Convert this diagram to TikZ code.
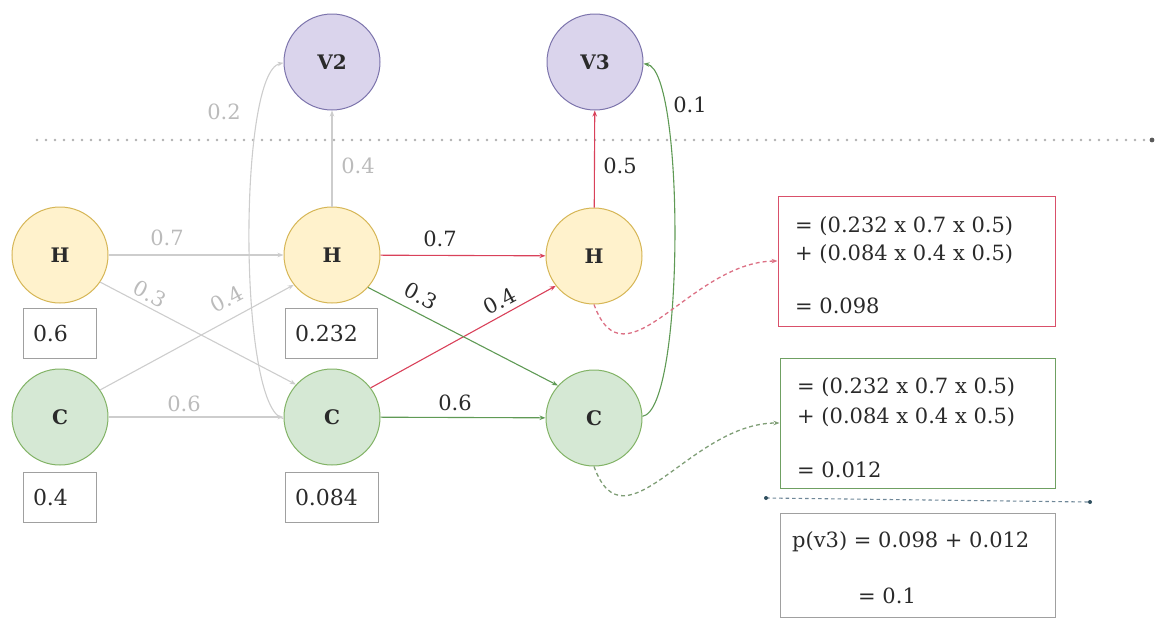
\documentclass[tikz,border=0pt]{standalone}
\usepackage{fontspec}
\setmainfont{DejaVu Serif}
\usetikzlibrary{arrows.meta}
\definecolor{yfill}{HTML}{FFF2CC}
\definecolor{ydraw}{HTML}{D6B656}
\definecolor{gfill}{HTML}{D5E8D4}
\definecolor{gdraw}{HTML}{82B366}
\definecolor{pfill}{HTML}{DAD4EC}
\definecolor{pdraw}{HTML}{7C74AC}
\definecolor{redl}{HTML}{D9415A}
\definecolor{greenl}{HTML}{5F9A55}
\definecolor{grayl}{HTML}{CDCDCD}
\definecolor{graytxt}{HTML}{BBBBBB}
\definecolor{txt}{HTML}{2A2A2A}
\definecolor{boxgray}{HTML}{A0A0A0}
\definecolor{redbox}{HTML}{D9506A}
\definecolor{greenbox}{HTML}{6FA062}
\definecolor{reddash}{HTML}{DC7084}
\definecolor{greendash}{HTML}{7F9E76}
\definecolor{bluedash}{HTML}{6F8798}
\definecolor{bluedot}{HTML}{2F4F5F}
\definecolor{dotgray}{HTML}{B0B0B0}
\tikzset{
  state/.style={circle, minimum size=96pt, inner sep=0pt, line width=1pt, font=\bfseries\fontsize{20}{24}\selectfont, text=txt},
  hs/.style={state, fill=yfill, draw=ydraw},
  cs/.style={state, fill=gfill, draw=gdraw},
  vs/.style={state, fill=pfill, draw=pdraw},
  valbox/.style={draw=boxgray, line width=1pt, minimum height=50pt, inner xsep=10pt, inner ysep=0pt, align=left, text=txt, font=\fontsize{22}{26}\selectfont},
  bigbox/.style={line width=1pt, minimum width=277pt, inner sep=0pt},
  boxtxt/.style={anchor=base west, inner sep=0pt, text=txt, font=\fontsize{21}{25}\selectfont},
  glbl/.style={text=graytxt, inner sep=0pt, font=\fontsize{21}{25}\selectfont},
  dlbl/.style={text=txt, inner sep=0pt, font=\fontsize{21}{25}\selectfont},
  arr/.style={-{Stealth[length=6pt,width=4.5pt]}, line width=1.1pt},
  darr/.style={-{Stealth[length=6pt,width=4.5pt]}, line width=1.3pt, dash pattern=on 4pt off 3pt},
}
\begin{document}
\begin{tikzpicture}[x=1pt,y=-1pt]
\useasboundingbox (0,0) rectangle (1156,619);
% top dotted separator
\coordinate (dl1) at (37,140);
\coordinate (dl2) at (1152,140);
\draw[dotgray, line width=2.8pt, line cap=round, dash pattern=on 0pt off 9pt] (dl1) -- (dl2);
\fill[black!65] (dl2) circle (2.4pt);
% states
\node[vs] (v2) at (332,62) {V2};
\node[vs] (v3) at (595,62) {V3};
\node[hs] (h1) at (60,255) {H};
\node[hs] (h2) at (332,255) {H};
\node[hs] (h3) at (594,256) {H};
\node[cs] (c1) at (60,417) {C};
\node[cs] (c2) at (332,417) {C};
\node[cs] (c3) at (594,418) {C};
% value boxes
\node[valbox, text width=53pt] (b1) at (59.5,333) {0.6};
\node[valbox, text width=53pt] (b2) at (59.5,497) {0.4};
\node[valbox, text width=72pt] (b3) at (331,333) {0.232};
\node[valbox, text width=73pt] (b4) at (331.5,497) {0.084};
% gray edges
\draw[arr, grayl] (h1) -- (h2);
\draw[arr, grayl] (c1) -- (c2);
\draw[arr, grayl] (h1.-34) -- (c2.138);
\draw[arr, grayl] (c1.34) -- (h2.218);
\draw[arr, grayl] (h2) -- (v2);
\draw[arr, grayl] (c2.182) .. controls (238,410) and (238,72) .. (v2.181);
% coloured edges
\draw[arr, redl] (h2) -- (h3);
\draw[arr, redl] (c2.37) -- (h3.218);
\draw[arr, redl] (h3) -- (v3);
\draw[arr, greenl] (h2.-42) -- (c3.138);
\draw[arr, greenl] (c2) -- (c3);
\draw[arr, greenl] (c3.2) .. controls (685,410) and (685,70) .. (v3.-2);
% gray labels
\node[glbl] (l02) at (224,112) {0.2};
\node[glbl] (l04a) at (358,166) {0.4};
\node[glbl] (l07a) at (167,238) {0.7};
\node[glbl, rotate=-28] (l03a) at (150,294) {0.3};
\node[glbl, rotate=28] (l04b) at (227,299) {0.4};
\node[glbl] (l06a) at (184,404) {0.6};
% dark labels
\node[dlbl] (l07b) at (440,239) {0.7};
\node[dlbl, rotate=-28] (l03b) at (421,296) {0.3};
\node[dlbl, rotate=28] (l04c) at (500,301) {0.4};
\node[dlbl] (l06b) at (455,403) {0.6};
\node[dlbl] (l05) at (620,166) {0.5};
\node[dlbl] (l01) at (690,105) {0.1};
% calculation boxes
\node[bigbox, draw=redbox, minimum height=130pt] (rbox) at (916.5,261) {};
\node[boxtxt] (r1) at (795,232) {= (0.232 x 0.7 x 0.5)};
\node[boxtxt] (r2) at (795,260) {+ (0.084 x 0.4 x 0.5)};
\node[boxtxt] (r3) at (795,313) {= 0.098};
\node[bigbox, draw=greenbox, minimum height=130pt, minimum width=275pt] (gbox) at (917.5,423) {};
\node[boxtxt] (g1) at (797,393) {= (0.232 x 0.7 x 0.5)};
\node[boxtxt] (g2) at (797,423) {+ (0.084 x 0.4 x 0.5)};
\node[boxtxt] (g3) at (797,477) {= 0.012};
\node[bigbox, draw=boxgray, minimum height=104pt, minimum width=275pt] (pbox) at (917.5,565.5) {};
\node[boxtxt] (p1) at (792,547) {p(v3) = 0.098 + 0.012};
\node[boxtxt] (p2) at (858,603) {= 0.1};
% dashed pointers
\draw[darr, reddash] (h3.south) .. controls (625,390) and (690,262) .. (rbox.west);
\draw[darr, greendash] (c3.south) .. controls (625,552) and (690,423) .. (gbox.west);
% blue separator
\coordinate (bl1) at (766,498);
\coordinate (bl2) at (1090,502);
\draw[bluedash, line width=1.1pt, dash pattern=on 3.5pt off 3pt] (bl1) -- (bl2);
\fill[bluedot] (bl1) circle (2pt);
\fill[bluedot] (bl2) circle (2pt);
\end{tikzpicture}
\end{document}
